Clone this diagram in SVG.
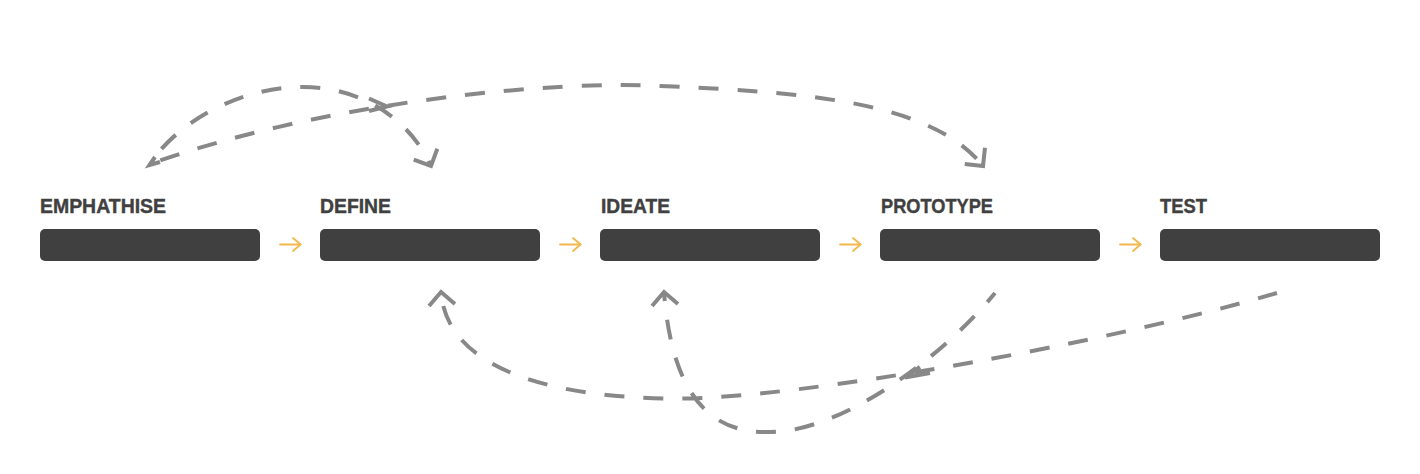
<svg xmlns="http://www.w3.org/2000/svg" width="1420" height="474" viewBox="0 0 1420 474">
  <style>
    .box { fill: #404040; }
    .label { font-family: "Liberation Sans", Arial, sans-serif; font-weight: 700; font-size: 20px; fill: #404040; stroke: #404040; stroke-width: 0.4; }
    .step { fill: none; stroke: #F2B84B; stroke-width: 1.8; stroke-linecap: round; stroke-linejoin: round; }
    .loop { fill: none; stroke: #888888; stroke-width: 4; stroke-dasharray: 20 19; }
    .head { fill: none; stroke: #888888; stroke-width: 4; stroke-dasharray: none; stroke-linejoin: miter; }
  </style>
  <defs>
    <marker id="ah" markerUnits="userSpaceOnUse" viewBox="-16 -16 20 32" refX="0" refY="0" markerWidth="20" markerHeight="32" orient="auto">
      <path class="head" d="M-13,-13 L0,0 L-13,13"/>
    </marker>
    <marker id="yh" markerUnits="userSpaceOnUse" viewBox="-10 -10 12 20" refX="0" refY="0" markerWidth="12" markerHeight="20" orient="auto">
      <path class="step" d="M-7.5,-6.5 L0,0 L-7.5,6.5"/>
    </marker>
  </defs>
  <rect width="1420" height="474" fill="#ffffff"/>

  <g id="node-empathise">
    <text class="label" x="40" y="213" textLength="126" lengthAdjust="spacingAndGlyphs">EMPHATHISE</text>
    <rect class="box" x="40" y="229" width="220" height="32" rx="5"/>
  </g>
  <g id="node-define">
    <text class="label" x="320" y="213" textLength="71" lengthAdjust="spacingAndGlyphs">DEFINE</text>
    <rect class="box" x="320" y="229" width="220" height="32" rx="5"/>
  </g>
  <g id="node-ideate">
    <text class="label" x="601" y="213" textLength="69" lengthAdjust="spacingAndGlyphs">IDEATE</text>
    <rect class="box" x="600" y="229" width="220" height="32" rx="5"/>
  </g>
  <g id="node-prototype">
    <text class="label" x="881" y="213" textLength="112" lengthAdjust="spacingAndGlyphs">PROTOTYPE</text>
    <rect class="box" x="880" y="229" width="220" height="32" rx="5"/>
  </g>
  <g id="node-test">
    <text class="label" x="1160" y="213" textLength="47" lengthAdjust="spacingAndGlyphs">TEST</text>
    <rect class="box" x="1160" y="229" width="220" height="32" rx="5"/>
  </g>

  <g id="connectors">
    <!-- sequential steps -->
    <path class="step" d="M280,244.5 H300.5" marker-end="url(#yh)"/>
    <path class="step" d="M560,244.5 H580.5" marker-end="url(#yh)"/>
    <path class="step" d="M840,244.5 H860.5" marker-end="url(#yh)"/>
    <path class="step" d="M1120,244.5 H1140.5" marker-end="url(#yh)"/>

    <!-- Empathise -> Define -->
    <path class="loop" style="stroke-dashoffset:20" d="M150,164 C175,125 235,88 300,87 C350,86 405,110 431,166" marker-end="url(#ah)"/>
    <!-- Empathise -> Prototype -->
    <path class="loop" style="stroke-dashoffset:28" d="M150,164 C330,100 560,80 660,86 C800,92 930,100 983,166" marker-end="url(#ah)"/>
    <!-- Test -> Define -->
    <path class="loop" style="stroke-dashoffset:0" d="M1277,293 C1100,345 800,398 680,398.5 C560,399 447,372 441,292" marker-end="url(#ah)"/>
    <!-- Prototype -> Ideate -->
    <path class="loop" style="stroke-dashoffset:8" d="M995,293 C940,360 840,432 770,432 C710,434 672,395 664,292" marker-end="url(#ah)"/>

    <!-- small chevrons at crossings / start -->
    <path class="head" d="M155,157 L149.5,165 L160,162"/>
    <path class="head" d="M369,98.5 L387,106.5 L369,111"/>
    <path class="head" d="M920,367 L905,377.5 L930,373"/>
  </g>
</svg>
